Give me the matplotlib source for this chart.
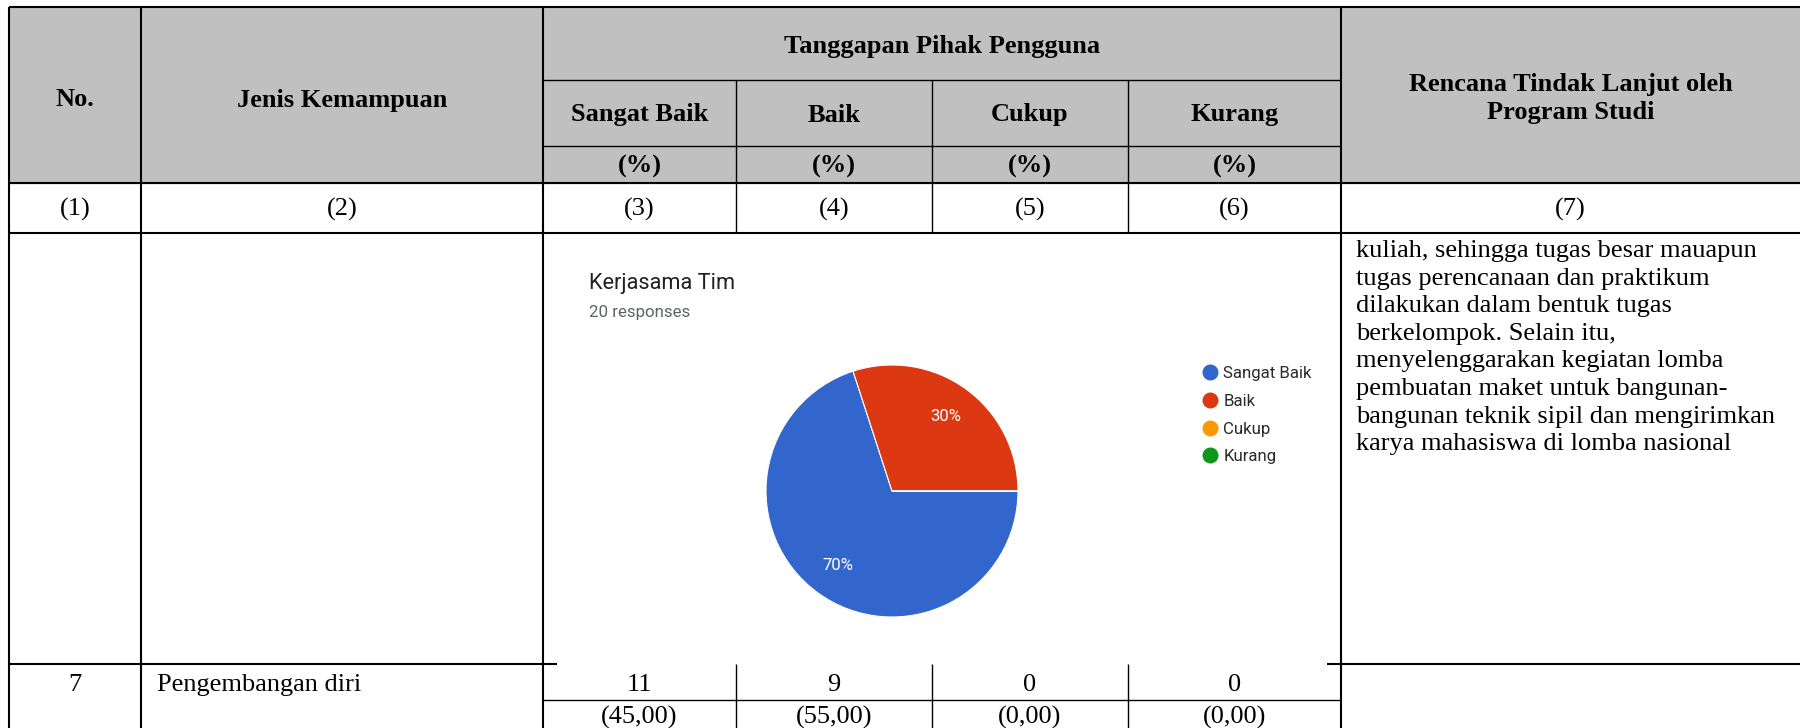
import matplotlib
matplotlib.use("Agg")
import matplotlib.pyplot as plt
from matplotlib.patches import Rectangle
from matplotlib.lines import Line2D

# ---- data ----
categories = ["Sangat Baik", "Baik", "Cukup", "Kurang"]
pie_counts = [14, 6, 0, 0]          # Kerjasama Tim, 20 responses
pie_colors = ["#3366cc", "#dc3912", "#ff9900", "#109618"]
pie_title = "Kerjasama Tim"
pie_subtitle = "20 responses"

col_numbers = ["(1)", "(2)", "(3)", "(4)", "(5)", "(6)", "(7)"]
row7_no = "7"
row7_name = "Pengembangan diri"
row7_counts = [11, 9, 0, 0]
row7_pct = ["(45,00)", "(55,00)", "(0,00)", "(0,00)"]

rtl_lines = [
    "kuliah, sehingga tugas besar mauapun",
    "tugas perencanaan dan praktikum",
    "dilakukan dalam bentuk tugas",
    "berkelompok. Selain itu,",
    "menyelenggarakan kegiatan lomba",
    "pembuatan maket untuk bangunan-",
    "bangunan teknik sipil dan mengirimkan",
    "karya mahasiswa di lomba nasional",
]

# ---- layout (pixels, y down) ----
W, H = 1800, 728
XS = [9, 141, 543, 736, 932, 1128, 1341, 1800]
Y_TOP, Y_TG, Y_SUB, Y_HEAD, Y_NUM, Y_PIE, Y_MID = 7, 80, 146, 183, 233, 664, 700
SERIF = "Liberation Serif"
FS = 19
THICK, THIN = 1.5, 1.0

fig = plt.figure(figsize=(W / 100, H / 100), dpi=100)
ax = fig.add_axes([0, 0, 1, 1])
ax.set_xlim(0, W)
ax.set_ylim(H, 0)
ax.axis("off")

# screenshot area of the pie (it hides part of the row line)
IX0, IX1, IY0, IY1 = 557, 1327, 236, Y_PIE

# header background
ax.add_patch(Rectangle((XS[0], Y_TOP), W - XS[0], Y_HEAD - Y_TOP, color="#c0c0c0", zorder=0))

# horizontal lines
ax.hlines([Y_TOP, Y_HEAD, Y_NUM], XS[0], W, colors="black", lw=THICK, zorder=2)
ax.hlines([Y_PIE, Y_PIE], [XS[0], IX1], [IX0, W], colors="black", lw=THICK, zorder=2)
ax.hlines([Y_TG, Y_SUB], XS[2], XS[6], colors="black", lw=THIN, zorder=2)
ax.hlines(Y_MID, XS[2], XS[6], colors="black", lw=THIN, zorder=2)

# vertical lines
ax.vlines([XS[0], XS[1], XS[2], XS[6]], Y_TOP, H, colors="black", lw=THICK, zorder=2)
ax.vlines(XS[3:6], Y_TG, Y_NUM, colors="black", lw=THIN, zorder=2)
ax.vlines(XS[3:6], Y_PIE, H, colors="black", lw=THIN, zorder=2)

def cx(i):
    return (XS[i] + XS[i + 1]) / 2

# header text
hb = dict(family=SERIF, fontsize=FS, fontweight="bold", ha="center", va="center", zorder=4)
ax.text(cx(0), 100, "No.", **hb)
ax.text(cx(1), 100, "Jenis Kemampuan", **hb)
ax.text((XS[2] + XS[6]) / 2, 47, "Tanggapan Pihak Pengguna", **hb)
for i, cat in enumerate(categories):
    ax.text(cx(2 + i), 115, cat, **hb)
    ax.text(cx(2 + i), 166, "(%)", **hb)
ax.text(cx(6), 85, "Rencana Tindak Lanjut oleh", **hb)
ax.text(cx(6), 113, "Program Studi", **hb)

# column numbers
tn = dict(family=SERIF, fontsize=FS, ha="center", va="center", zorder=4)
for i, lab in enumerate(col_numbers):
    ax.text(cx(i), (Y_HEAD + Y_NUM) / 2 + 1, lab, **tn)

# follow-up text
for k, line in enumerate(rtl_lines):
    ax.text(1356, 251 + k * 27.6, line, family=SERIF, fontsize=FS, ha="left", va="center", zorder=4)

# row 7
ax.text(cx(0), 685, row7_no, **tn)
ax.text(157, 685, row7_name, family=SERIF, fontsize=FS, ha="left", va="center", zorder=4)
for i, (c, p) in enumerate(zip(row7_counts, row7_pct)):
    ax.text(cx(2 + i), 685, str(c), **tn)
    ax.text(cx(2 + i), 717, p, **tn)

# ---- embedded pie screenshot ----
pax = fig.add_axes([IX0 / W, (H - IY1) / H, (IX1 - IX0) / W, (IY1 - IY0) / H])
pax.pie(pie_counts, colors=pie_colors, center=(892, H - 491), radius=126,
        counterclock=False, startangle=0,
        autopct=lambda p: f"{p:.0f}%" if p > 0 else "", pctdistance=0.73,
        wedgeprops=dict(edgecolor="white", linewidth=0.8),
        textprops=dict(color="white", family="Roboto", fontsize=12))
pax.set_xlim(IX0, IX1)
pax.set_ylim(H - IY1, H - IY0)
pax.set_aspect("auto")
pax.axis("off")

pax.text(589, H - 283, pie_title, family="Roboto", fontsize=15.7, color="#202124", ha="left", va="center")
pax.text(589, H - 312, pie_subtitle, family="Roboto", fontsize=12.2, color="#5f6368", ha="left", va="center")

handles = [Line2D([], [], marker="o", ls="", markersize=10.5, markerfacecolor=c, markeredgecolor=c)
           for c in pie_colors]
pax.legend(handles, categories, loc="upper left", bbox_to_anchor=(1203, H - 366),
           bbox_transform=pax.transData, frameon=False, borderpad=0, borderaxespad=0,
           handlelength=0.8, handletextpad=0.4, labelspacing=0.76,
           prop=dict(family="Roboto", size=12.1), labelcolor="#2a2a2a")

fig.savefig("out.png", dpi=100)
